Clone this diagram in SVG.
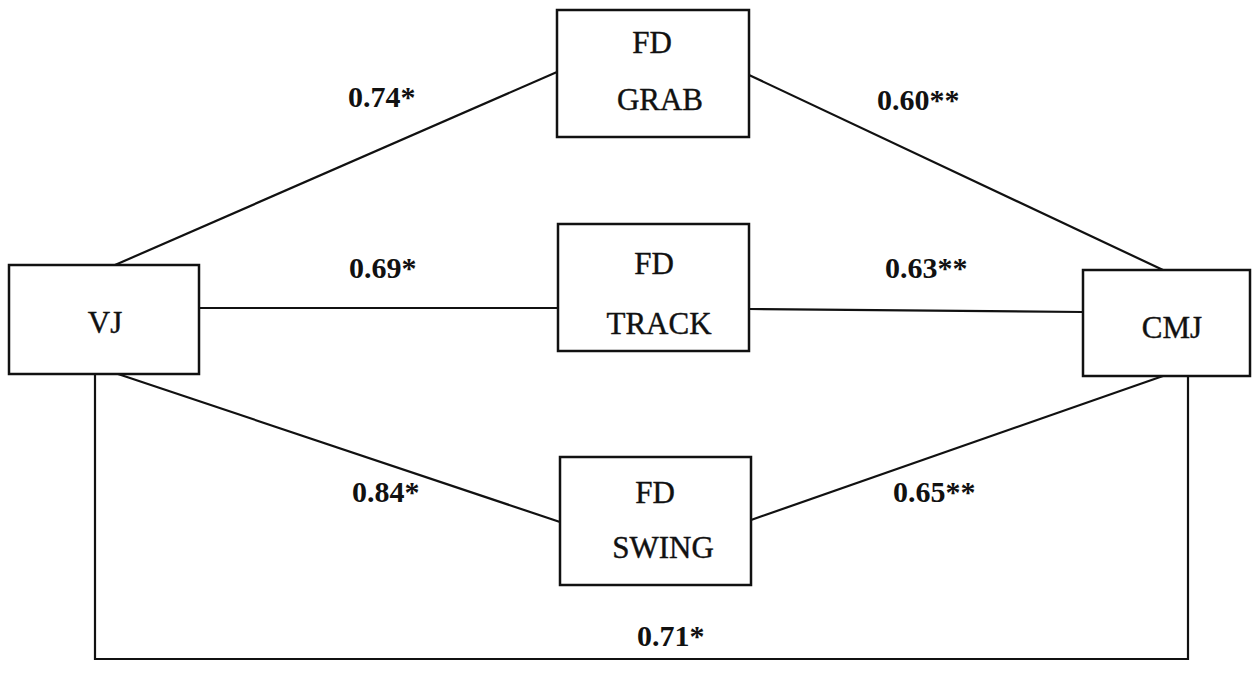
<svg xmlns="http://www.w3.org/2000/svg" width="1258" height="690" viewBox="0 0 1258 690">
<style>
.box{fill:#fff;stroke:#111;stroke-width:2.5}
.t{font-family:"Liberation Serif","Times New Roman",serif;font-size:31px;fill:#111;stroke:#111;stroke-width:0.4;text-anchor:middle}
.l{font-family:"Liberation Serif","Times New Roman",serif;font-size:30px;font-weight:bold;fill:#111}
.c{fill:none;stroke:#111;stroke-width:2.2}
</style>
<rect width="1258" height="690" fill="#fff"/>
<g id="connectors">
<line class="c" x1="115" y1="265" x2="557" y2="72"/>
<line class="c" x1="749" y1="75" x2="1163" y2="270"/>
<line class="c" x1="199" y1="308" x2="558" y2="308"/>
<line class="c" x1="749" y1="309" x2="1083" y2="312"/>
<line class="c" x1="118" y1="374" x2="560" y2="522"/>
<line class="c" x1="751" y1="520" x2="1163" y2="376"/>
<polyline class="c" points="95,374 95,659 1188,659 1188,376"/>
</g>
<g id="labels">
<text class="l" x="348" y="107">0.74*</text>
<text class="l" x="877" y="110">0.60**</text>
<text class="l" x="349" y="278">0.69*</text>
<text class="l" x="885" y="278">0.63**</text>
<text class="l" x="352" y="502">0.84*</text>
<text class="l" x="893" y="502">0.65**</text>
<text class="l" x="637" y="646">0.71*</text>
</g>
<g id="VJ">
<rect class="box" x="9" y="265" width="190" height="109"/>
<text class="t" x="105" y="333">VJ</text>
</g>
<g id="GRAB">
<rect class="box" x="557" y="10" width="192" height="127"/>
<text class="t" x="652" y="53">FD</text>
<text class="t" x="660" y="110">GRAB</text>
</g>
<g id="TRACK">
<rect class="box" x="558" y="224" width="191" height="127"/>
<text class="t" x="654" y="274">FD</text>
<text class="t" x="659" y="334">TRACK</text>
</g>
<g id="SWING">
<rect class="box" x="560" y="457" width="191" height="128"/>
<text class="t" x="655" y="503">FD</text>
<text class="t" x="663" y="558">SWING</text>
</g>
<g id="CMJ">
<rect class="box" x="1083" y="270" width="167" height="106"/>
<text class="t" x="1172" y="338">CMJ</text>
</g>
</svg>
